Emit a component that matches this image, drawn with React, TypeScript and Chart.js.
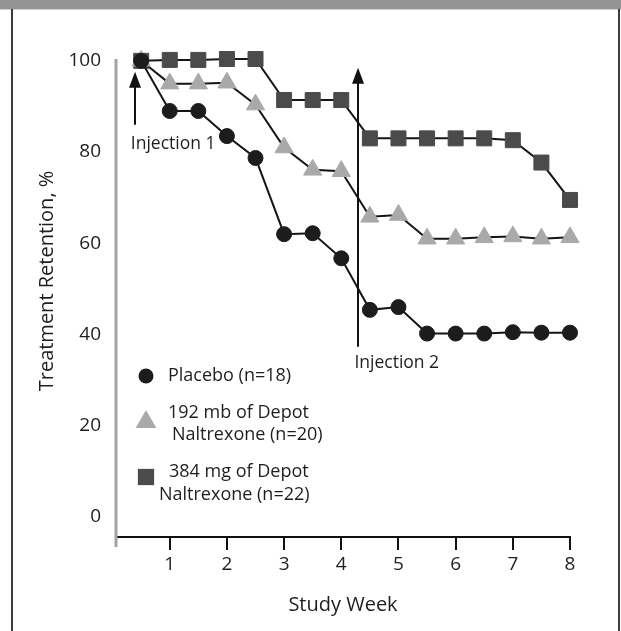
import React, { useEffect, useRef } from 'react';
import { Chart, registerables } from 'chart.js';

Chart.register(...registerables);

const WEEKS = [0.5, 1, 1.5, 2, 2.5, 3, 3.5, 4, 4.5, 5, 5.5, 6, 6.5, 7, 7.5, 8];
const PLACEBO = [100, 89, 89, 83.5, 78.7, 62, 62.2, 56.7, 45.4, 46, 40.2, 40.2, 40.2, 40.5, 40.4, 40.4];
const DOSE_192 = [100, 95, 95, 95.2, 90.4, 81, 76.1, 75.8, 65.8, 66.2, 61, 61, 61.3, 61.5, 61, 61.3];
const DOSE_384 = [100, 100.2, 100.2, 100.4, 100.4, 91.4, 91.4, 91.4, 83, 83, 83, 83, 83, 82.6, 77.7, 69.5];

const SERIES_LABELS = [
  ['Placebo (n=18)'],
  ['192 mb of Depot', 'Naltrexone (n=20)'],
  ['384 mg of Depot', 'Naltrexone (n=22)'],
];

const X_TICKS = [1, 2, 3, 4, 5, 6, 7, 8];
const Y_TICKS = [0, 20, 40, 60, 80, 100];

const X_TITLE = 'Study Week';
const Y_TITLE = 'Treatment Retention, %';

const INJECTION_LABELS = ['Injection 1', 'Injection 2'];
const INJECTION_WEEK = [0.4, 4.29];
const INJECTION_FROM = [86, 37.3];
const INJECTION_TO = [97.6, 98.5];
const INJECTION_LABEL_WEEK = [1.06, 4.97];
const INJECTION_LABEL_VALUE = [81.8, 33.8];

const FONT = '"Open Sans", "DejaVu Sans", sans-serif';
const TEXT = '#1e1e1e';

function markerPath(ctx: CanvasRenderingContext2D, style: string, x: number, y: number, r: number) {
  ctx.beginPath();
  if (style === 'circle') {
    ctx.arc(x, y, r, 0, Math.PI * 2);
  } else if (style === 'triangle') {
    let a = 0;
    ctx.moveTo(x + Math.sin(a) * r, y - Math.cos(a) * r);
    a += (2 * Math.PI) / 3;
    ctx.lineTo(x + Math.sin(a) * r, y - Math.cos(a) * r);
    a += (2 * Math.PI) / 3;
    ctx.lineTo(x + Math.sin(a) * r, y - Math.cos(a) * r);
    ctx.closePath();
  } else {
    const s = r * Math.SQRT1_2;
    ctx.rect(x - s, y - s, 2 * s, 2 * s);
  }
}

const overlayPlugin = {
  id: 'overlay',
  beforeDatasetsDraw(chart: any) {
    const { ctx, chartArea, scales } = chart;
    const ys = scales.y;
    ctx.save();
    ctx.strokeStyle = '#a3a3a3';
    ctx.lineWidth = 3;
    ctx.beginPath();
    ctx.moveTo(chartArea.left, ys.getPixelForValue(ys.max));
    ctx.lineTo(chartArea.left, chartArea.bottom + 10);
    ctx.stroke();
    ctx.restore();
  },
  afterDatasetsDraw(chart: any) {
    const { ctx, chartArea, scales } = chart;
    const xs = scales.x;
    const ys = scales.y;
    ctx.save();
    // injection arrows
    ctx.strokeStyle = '#111';
    ctx.fillStyle = '#111';
    ctx.lineWidth = 2;
    INJECTION_WEEK.forEach((w, i) => {
      const x = Math.round(xs.getPixelForValue(w));
      const y0 = ys.getPixelForValue(INJECTION_FROM[i]);
      const y1 = ys.getPixelForValue(INJECTION_TO[i]);
      ctx.beginPath();
      ctx.moveTo(x, y0);
      ctx.lineTo(x, y1 + 10);
      ctx.stroke();
      ctx.beginPath();
      ctx.moveTo(x, y1);
      ctx.lineTo(x - 6, y1 + 16);
      ctx.lineTo(x + 6, y1 + 16);
      ctx.closePath();
      ctx.fill();
      ctx.font = `17.5px ${FONT}`;
      ctx.fillStyle = TEXT;
      ctx.textAlign = 'center';
      ctx.textBaseline = 'middle';
      ctx.fillText(
        INJECTION_LABELS[i],
        xs.getPixelForValue(INJECTION_LABEL_WEEK[i]),
        ys.getPixelForValue(INJECTION_LABEL_VALUE[i])
      );
      ctx.fillStyle = '#111';
    });

    // legend
    const markerX = chartArea.left + 30;
    const markerDy = [-161, -115, -60];
    const lineDy = [[-161], [-124, -102], [-65, -42]];
    const lineDx = [[52], [52, 56], [53, 43]];
    chart.data.datasets.forEach((ds: any, i: number) => {
      const my = chartArea.bottom + markerDy[i];
      ctx.fillStyle = ds.backgroundColor;
      const r = ds.pointStyle === 'triangle' ? 12 : ds.pointStyle === 'rect' ? 11.5 : ds.pointRadius;
      markerPath(ctx, ds.pointStyle, markerX, my, r);
      ctx.fill();
      ctx.font = `18px ${FONT}`;
      ctx.fillStyle = TEXT;
      ctx.textAlign = 'left';
      ctx.textBaseline = 'middle';
      SERIES_LABELS[i].forEach((t, j) => {
        ctx.fillText(t, chartArea.left + lineDx[i][j], chartArea.bottom + lineDy[i][j]);
      });
    });

    // y axis title
    ctx.translate(47, 281);
    ctx.rotate(-Math.PI / 2);
    ctx.font = `20px ${FONT}`;
    ctx.fillStyle = TEXT;
    ctx.textAlign = 'center';
    ctx.textBaseline = 'middle';
    ctx.fillText(Y_TITLE, 0, 0);
    ctx.restore();
  },
};

export default function App() {
  const ref = useRef<HTMLCanvasElement | null>(null);

  useEffect(() => {
    if (!ref.current) return;
    const mk = (arr: number[]) => WEEKS.map((w, i) => ({ x: w, y: arr[i] }));
    const chart = new Chart(ref.current, {
      type: 'line',
      data: {
        datasets: [
          {
            label: SERIES_LABELS[0].join(' '),
            data: mk(PLACEBO),
            borderColor: '#151515',
            borderWidth: 2,
            backgroundColor: '#1c1c1c',
            pointBackgroundColor: '#1c1c1c',
            pointBorderColor: '#1c1c1c',
            pointBorderWidth: 1,
            pointStyle: 'circle',
            pointRadius: 7.5,
            clip: false,
          } as any,
          {
            label: SERIES_LABELS[1].join(' '),
            data: mk(DOSE_192),
            borderColor: '#151515',
            borderWidth: 2,
            backgroundColor: '#a9a9a9',
            pointBackgroundColor: '#a9a9a9',
            pointBorderColor: '#a9a9a9',
            pointBorderWidth: 1,
            pointStyle: 'triangle',
            pointRadius: 10.5,
            clip: false,
          },
          {
            label: SERIES_LABELS[2].join(' '),
            data: mk(DOSE_384),
            borderColor: '#151515',
            borderWidth: 2,
            backgroundColor: '#4b4b4b',
            pointBackgroundColor: '#4b4b4b',
            pointBorderColor: '#4b4b4b',
            pointBorderWidth: 1,
            pointStyle: 'rect',
            pointRadius: 10.6,
            clip: false,
          },
        ],
      },
      options: {
        animation: false,
        responsive: false,
        maintainAspectRatio: false,
        layout: { padding: { left: 0, right: 51, top: 59, bottom: 0 } },
        plugins: {
          legend: { display: false },
          tooltip: { enabled: false },
        },
        scales: {
          x: {
            type: 'linear',
            min: 0.06,
            max: 8,
            afterBuildTicks: (s: any) => {
              s.ticks = X_TICKS.map((v) => ({ value: v }));
            },
            afterFit: (s: any) => {
              s.height = 94;
            },
            grid: {
              display: true,
              drawOnChartArea: false,
              drawTicks: true,
              tickLength: 13,
              color: '#111',
              lineWidth: 2,
            },
            border: { display: true, color: '#111', width: 2 },
            ticks: {
              font: { family: FONT, size: 19 },
              color: TEXT,
              padding: 3,
              maxRotation: 0,
              callback: (v: any) => String(v),
            },
            title: {
              display: true,
              text: X_TITLE,
              font: { family: FONT, size: 20 },
              color: TEXT,
              padding: { top: 0, bottom: 14 },
            },
          },
          y: {
            type: 'linear',
            min: -4.4,
            max: 100.4,
            afterBuildTicks: (s: any) => {
              s.ticks = Y_TICKS.map((v) => ({ value: v }));
            },
            afterFit: (s: any) => {
              s.width = 116;
            },
            grid: { display: false, drawTicks: false },
            border: { display: false },
            ticks: {
              font: { family: FONT, size: 19 },
              color: TEXT,
              padding: 15,
              callback: (v: any) => String(v),
            },
          },
        },
      },
      plugins: [overlayPlugin],
    });
    return () => chart.destroy();
  }, []);

  return (
    <div
      style={{
        position: 'fixed',
        left: 0,
        top: 0,
        width: 621,
        height: 631,
        background: '#fff',
        overflow: 'hidden',
      }}
    >
      <canvas ref={ref} width={621} height={631} style={{ position: 'absolute', left: 0, top: 0, width: 621, height: 631 }} />
      <div style={{ position: 'absolute', left: 0, top: 0, width: 621, height: 9, background: '#939393' }} />
      <div style={{ position: 'absolute', left: 0, top: 9, width: 621, height: 1, background: '#d0d0d0' }} />
      <div style={{ position: 'absolute', left: 11, top: 9, width: 2, height: 622, background: '#3c3c3c' }} />
      <div style={{ position: 'absolute', left: 618, top: 9, width: 2, height: 622, background: '#3c3c3c' }} />
    </div>
  );
}
